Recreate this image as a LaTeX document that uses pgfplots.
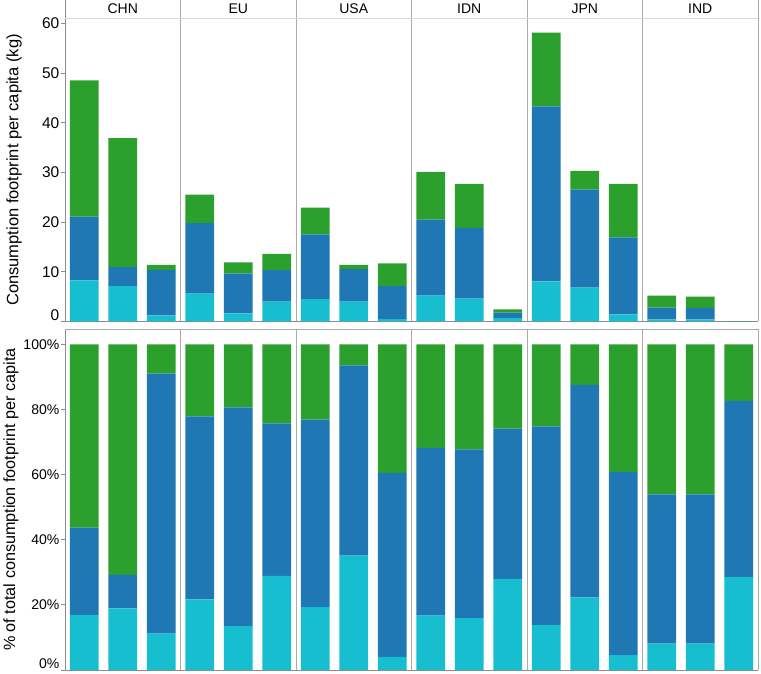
\documentclass[border=0pt]{standalone}
\usepackage{fontspec}
\setmainfont{Liberation Sans}
\usepackage{pgfplots}
\usepackage{pgfplotstable}
\pgfplotsset{compat=1.18}
\definecolor{ccyan}{HTML}{17BECF}
\definecolor{cblue}{HTML}{1F77B4}
\definecolor{cgreen}{HTML}{2CA02C}
\definecolor{axgray}{HTML}{8C8C8C}
\definecolor{divgray}{HTML}{AAAAAA}
\definecolor{hdrgray}{HTML}{D8D8D8}

\pgfplotstableread{
x c b g
0.5 8.26 12.84 27.4
1.5 7.1 3.8 26.0
2.5 1.2 9.1 1.1
3.5 5.6 14.2 5.7
4.5 1.6 8.0 2.3
5.5 4.0 6.3 3.3
6.5 4.5 13.0 5.4
7.5 4.0 6.5 0.9
8.5 0.45 6.65 4.6
9.5 5.2 15.3 9.6
10.5 4.6 14.2 8.9
11.5 0.67 1.1 0.63
12.5 8.05 35.25 14.8
13.5 6.8 19.7 3.8
14.5 1.4 15.5 10.8
15.5 0.4 2.35 2.45
16.5 0.4 2.3 2.3
17.5 0.003 0.005 0.002
}\kgdata

\pgfplotstableread{
x c b g
0.5 16.9 26.8 56.3
1.5 18.9 10.3 70.8
2.5 11.2 79.8 9.0
3.5 21.7 56.2 22.1
4.5 13.5 67.1 19.4
5.5 28.9 46.8 24.3
6.5 19.3 57.6 23.1
7.5 35.1 58.4 6.5
8.5 4.0 56.5 39.5
9.5 16.7 51.5 31.8
10.5 15.9 51.8 32.3
11.5 28.0 46.1 25.9
12.5 13.8 61.0 25.2
13.5 22.3 65.2 12.5
14.5 4.6 56.2 39.2
15.5 8.1 45.8 46.1
16.5 8.1 45.8 46.1
17.5 28.5 54.1 17.4
}\pctdata

\pgfplotsset{
  facet/.style={
    scale only axis, width=693pt, xmin=0, xmax=18,
    axis x line=bottom, axis y line=left,
    axis line style={-, draw=axgray, line width=0.8pt},
    xtick=\empty,
    extra x ticks={3,6,9,12,15,18},
    extra x tick labels={},
    extra x tick style={grid=major, major grid style={divgray, line width=0.8pt}, major tick length=0pt},
    tick align=outside, major tick length=4pt,
    tick style={axgray, line width=0.8pt},
    /pgf/number format/assume math mode=true,
    ybar stacked, bar width=0.745,
    every axis plot/.append style={draw=none},
    clip=false,
  }
}

\begin{document}
\begin{tikzpicture}[x=1pt,y=1pt]
\useasboundingbox (0,0) rectangle (761,673);
% top panel: absolute values
\begin{axis}[facet,
  at={(65pt,351.6pt)}, anchor=south west, height=321.4pt,
  ymin=0, ymax=64.69,
  ytick={10,20,30,40,50,60},
  yticklabel style={font=\fontsize{15.5}{17}\selectfont, inner sep=1.5pt},
  extra y ticks={0}, extra y tick labels={0},
  extra y tick style={tick label style={yshift=6pt}},
  ylabel={Consumption footprint per capita (kg)},
  ylabel style={font=\fontsize{16.5}{19}\selectfont, at={(axis description cs:-0.0736,0.471)}, anchor=center},
]
\addplot[fill=ccyan] table[x=x,y=c]{\kgdata};
\addplot[fill=cblue] table[x=x,y=b]{\kgdata};
\addplot[fill=cgreen] table[x=x,y=g]{\kgdata};
\draw[hdrgray, line width=0.8pt] (axis cs:0,61.01) -- (axis cs:18,61.01);
\node[font=\fontsize{14}{16}\selectfont] at (axis cs:1.5,62.85) {CHN};
\node[font=\fontsize{14}{16}\selectfont] at (axis cs:4.5,62.85) {EU};
\node[font=\fontsize{14}{16}\selectfont] at (axis cs:7.5,62.85) {USA};
\node[font=\fontsize{14}{16}\selectfont] at (axis cs:10.5,62.85) {IDN};
\node[font=\fontsize{14}{16}\selectfont] at (axis cs:13.5,62.85) {JPN};
\node[font=\fontsize{14}{16}\selectfont] at (axis cs:16.5,62.85) {IND};
\end{axis}
% bottom panel: shares
\begin{axis}[facet,
  at={(65pt,3pt)}, anchor=south west, height=340.7pt,
  ymin=0, ymax=104.6,
  ytick={20,40,60,80,100},
  yticklabel={\pgfmathprintnumber{\tick}\%},
  yticklabel style={font=\fontsize{14}{16}\selectfont, inner sep=1.5pt},
  extra y ticks={0}, extra y tick labels={0\%},
  extra y tick style={tick label style={yshift=6pt}},
  ylabel={\% of total consumption footprint per capita},
  ylabel style={font=\fontsize{16.2}{19}\selectfont, at={(axis description cs:-0.0779,0.5)}, anchor=center},
]
\addplot[fill=ccyan] table[x=x,y=c]{\pctdata};
\addplot[fill=cblue] table[x=x,y=b]{\pctdata};
\addplot[fill=cgreen] table[x=x,y=g]{\pctdata};
\draw[divgray, line width=0.8pt] (axis cs:0,104.6) -- (axis cs:18,104.6);
\end{axis}
\end{tikzpicture}
\end{document}
